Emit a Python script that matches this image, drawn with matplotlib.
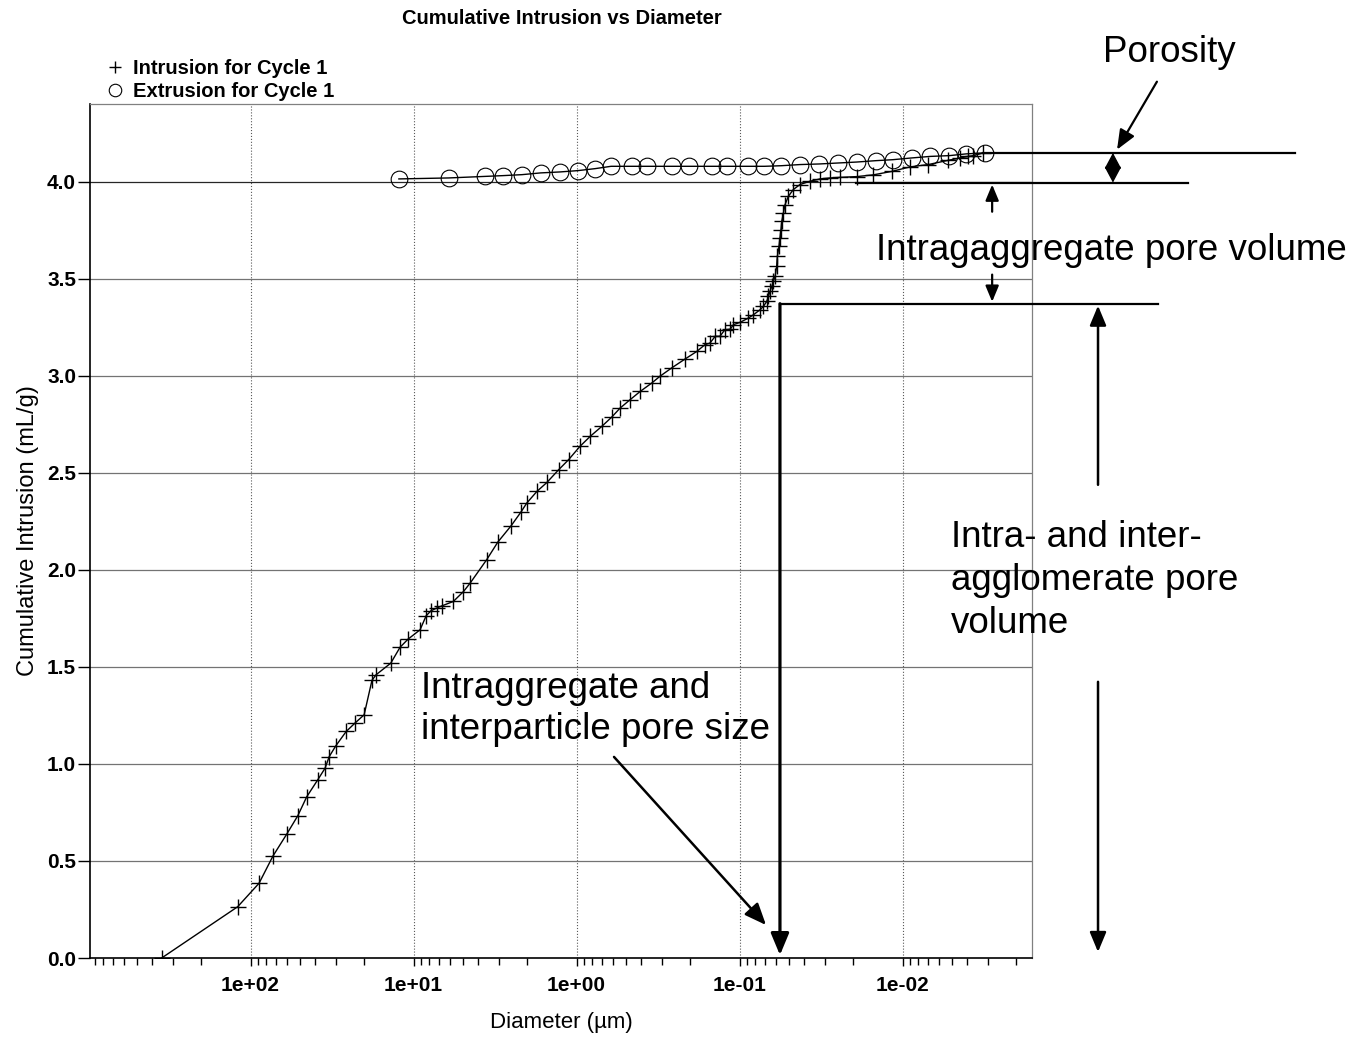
import numpy as np
import matplotlib
matplotlib.use('Agg')
import matplotlib.pyplot as plt
from matplotlib.lines import Line2D
from matplotlib.ticker import LogLocator, FuncFormatter, NullFormatter

plt.rcParams['font.family'] = ['Liberation Sans', 'DejaVu Sans']

# pore diameter (um) and cumulative intrusion (mL/g)
intr_diam = [351, 120, 88.7, 72.8, 60.0, 51.3, 45.2, 38.7, 34.9, 32.9,
             30.0, 25.9, 22.9, 20.1, 18.0, 17.0, 13.8, 12.1, 10.8, 9.12,
             8.37, 7.82, 7.21, 6.71, 5.70, 4.94, 4.50, 3.56, 3.04, 2.52,
             2.20, 2.02, 1.75, 1.52, 1.29, 1.12, 0.953, 0.826, 0.700, 0.608,
             0.541, 0.470, 0.407, 0.346, 0.308, 0.261, 0.216, 0.183, 0.163, 0.152,
             0.141, 0.132, 0.123, 0.114, 0.109, 0.0993, 0.0883, 0.0822, 0.0748, 0.0714,
             0.0681, 0.0665, 0.0650, 0.0634, 0.0621, 0.0605, 0.0592, 0.0586, 0.0573, 0.0565,
             0.0557, 0.0551, 0.0538, 0.0526, 0.0502, 0.0468, 0.0426, 0.0370, 0.0321, 0.0279,
             0.0242, 0.0191, 0.0151, 0.0116, 0.00899, 0.00695, 0.00524, 0.00444, 0.00394, 0.00368,
             0.00319]
intr_vol = [0.0, 0.264, 0.385, 0.526, 0.638, 0.733, 0.831, 0.918, 0.978, 1.038,
            1.093, 1.167, 1.210, 1.253, 1.430, 1.459, 1.519, 1.601, 1.643, 1.691,
            1.763, 1.789, 1.803, 1.814, 1.837, 1.888, 1.931, 2.052, 2.143, 2.227,
            2.296, 2.344, 2.404, 2.450, 2.515, 2.567, 2.636, 2.687, 2.739, 2.787,
            2.833, 2.876, 2.919, 2.962, 2.997, 3.040, 3.086, 3.125, 3.160, 3.168,
            3.203, 3.203, 3.237, 3.240, 3.263, 3.275, 3.297, 3.314, 3.340, 3.357,
            3.383, 3.409, 3.435, 3.460, 3.486, 3.512, 3.563, 3.615, 3.666, 3.710,
            3.753, 3.795, 3.838, 3.881, 3.924, 3.959, 3.985, 4.002, 4.014, 4.019,
            4.022, 4.026, 4.035, 4.053, 4.076, 4.088, 4.110, 4.122, 4.130, 4.134,
            4.148]

extr_diam = [12.3, 6.10, 3.64, 2.82, 2.16, 1.66, 1.26, 0.975, 0.769, 0.614,
             0.456, 0.371, 0.259, 0.205, 0.148, 0.120, 0.0891, 0.0703, 0.0555, 0.0425,
             0.0325, 0.0249, 0.0191, 0.0146, 0.0115, 0.00881, 0.00675, 0.00516, 0.00407, 0.00312]
extr_vol = [4.014, 4.019, 4.027, 4.031, 4.036, 4.045, 4.050, 4.057, 4.067, 4.079,
            4.079, 4.079, 4.079, 4.079, 4.079, 4.079, 4.079, 4.079, 4.082, 4.088,
            4.091, 4.096, 4.101, 4.108, 4.113, 4.122, 4.130, 4.134, 4.143, 4.148]

x_ticks = [100, 10, 1, 0.1, 0.01]
y_ticks = [0.0, 0.5, 1.0, 1.5, 2.0, 2.5, 3.0, 3.5, 4.0]

# levels used by the callouts
total_vol = intr_vol[-1]
intra_level = 3.995
knee_level = 3.371
knee_diam = 0.0565

fig = plt.figure(figsize=(13.57, 10.37), dpi=100)
ax = fig.add_axes([90/1357, 79/1037, 942/1357, 854/1037])

ax.plot(intr_diam, intr_vol, color='black', lw=1.0, marker='+', ms=11, mew=1.0, zorder=3)
ax.plot(extr_diam, extr_vol, color='black', lw=1.0, marker='o', ms=12, mfc='none',
        mec='black', mew=0.8, zorder=3)

ax.set_xscale('log')
ax.set_xticks(x_ticks)
ax.xaxis.set_major_formatter(FuncFormatter(lambda v, p: f'{v:.0e}'))
ax.xaxis.set_minor_locator(LogLocator(base=10, subs=np.arange(2, 10)))
ax.xaxis.set_minor_formatter(NullFormatter())
ax.set_yticks(y_ticks)
ax.yaxis.set_major_formatter(FuncFormatter(lambda v, p: f'{v:.1f}'))

ax.tick_params(axis='x', which='major', direction='out', length=6, width=1, pad=7,
               labelsize=15)
ax.tick_params(axis='x', which='minor', direction='out', length=5, width=1)
ax.tick_params(axis='y', which='major', direction='out', length=9, width=1, pad=1,
               labelsize=15)
for lab in ax.get_xticklabels() + ax.get_yticklabels():
    lab.set_fontweight('bold')

for x in x_ticks:
    ax.axvline(x, color='0.35', lw=0.8, ls=':', zorder=1)
for y in y_ticks[1:]:
    ax.axhline(y, color='0.15' if y == 4.0 else '0.45', lw=0.9, zorder=1)

for s in ['top', 'right']:
    ax.spines[s].set_color('0.5')
    ax.spines[s].set_linewidth(0.9)
for s in ['left', 'bottom']:
    ax.spines[s].set_linewidth(1.2)

ax.set_xlabel('Diameter (µm)', fontsize=16, labelpad=12)
ax.set_ylabel('Cumulative Intrusion (mL/g)', fontsize=17, labelpad=6)
fig.text(562/1357, 1 - 18/1037, 'Cumulative Intrusion vs Diameter', ha='center',
         va='center', fontsize=14.5, fontweight='bold')

handles = [Line2D([], [], ls='none', marker='+', ms=9, mew=1.0, color='black'),
           Line2D([], [], ls='none', marker='o', ms=9, mfc='none', mec='black', mew=0.8)]
leg = fig.legend(handles, ['Intrusion for Cycle 1', 'Extrusion for Cycle 1'],
                 loc='upper left', bbox_to_anchor=(105/1357, 1 - 59/1037),
                 frameon=False, borderpad=0, borderaxespad=0, handlelength=1.0,
                 handletextpad=0.4, labelspacing=0.22,
                 prop={'size': 14.5, 'weight': 'bold'})

# callouts
big = 26.5
line_kw = dict(color='black', lw=1.6, clip_on=False, zorder=5)
ax.plot([intr_diam[-1], 3.9e-5], [total_vol, total_vol], **line_kw)
ax.plot([0.0193, 1.77e-4], [intra_level, intra_level], **line_kw)
ax.plot([knee_diam, 2.71e-4], [knee_level, knee_level], **line_kw)


def arrow(tail, tip, lw, scale, style='-|>,head_length=0.6,head_width=0.25'):
    ax.annotate('', xy=tip, xytext=tail, annotation_clip=False,
                arrowprops=dict(arrowstyle=style, color='black', lw=lw,
                                mutation_scale=scale, shrinkA=0, shrinkB=0),
                zorder=6)


arrow((knee_diam, knee_level), (knee_diam, 0.015), 2.3, 22)
arrow((5.12e-4, total_vol), (5.12e-4, intra_level), 1.0, 16,
      style='<|-|>,head_length=0.62,head_width=0.33')
arrow((2.75e-4, 4.515), (4.83e-4, 4.165), 1.6, 20)
arrow((2.82e-3, 3.845), (2.82e-3, 3.985), 1.6, 16)
arrow((2.82e-3, 3.521), (2.82e-3, 3.381), 1.6, 16)
arrow((6.32e-4, 2.438), (6.32e-4, 3.361), 1.8, 20)
arrow((6.32e-4, 1.423), (6.32e-4, 0.031), 1.8, 20)
arrow((0.589, 1.036), (0.0688, 0.170), 1.8, 22)

ax.text(2.32e-4, 4.665, 'Porosity', fontsize=big, ha='center', va='center',
        clip_on=False, zorder=7)
ax.text(0.01456, 3.645, 'Intragaggregate pore volume', fontsize=big, ha='left',
        va='center', clip_on=False, zorder=7)
ax.text(5.04e-3, 2.255, 'Intra- and inter-\nagglomerate pore\nvolume', fontsize=big,
        ha='left', va='top', linespacing=1.29, clip_on=False, zorder=7)
ax.text(9.0, 1.48, 'Intraggregate and\ninterparticle pore size', fontsize=big,
        ha='left', va='top', linespacing=1.25, clip_on=False, zorder=7)

ax.set_xlim(966, 0.001606)
ax.set_ylim(0, 4.4)

fig.savefig('out.png', dpi=100)
